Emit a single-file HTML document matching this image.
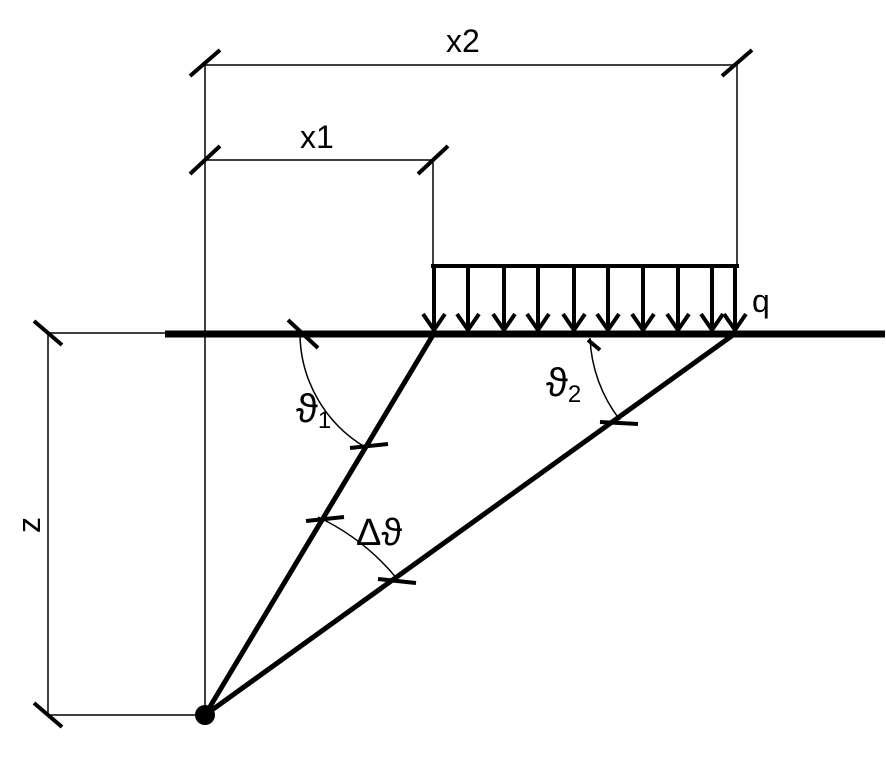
<!DOCTYPE html>
<html><head><style>body{margin:0;background:#fff}svg{display:block}</style></head><body>
<svg width="886" height="764" viewBox="0 0 886 764" xmlns="http://www.w3.org/2000/svg">
<g stroke="#000" fill="none" stroke-width="1.5">
<line x1="205" y1="65" x2="205" y2="715"/>
<line x1="205" y1="65" x2="737" y2="65"/>
<line x1="737" y1="65" x2="737" y2="265"/>
<line x1="205" y1="160" x2="433" y2="160"/>
<line x1="433" y1="160" x2="433" y2="265"/>
<line x1="48" y1="333" x2="48" y2="715"/>
<line x1="48" y1="333" x2="165" y2="333"/>
<line x1="48" y1="715" x2="205" y2="715"/>
<path d="M300 335 A133 133 0 0 0 365 447"/>
<path d="M590 338 A143 143 0 0 0 620 420"/>
<path d="M318 517 A228 228 0 0 1 398 580"/>
</g>
<g stroke="#000" stroke-width="4">
<line x1="190" y1="76" x2="220" y2="50"/>
<line x1="722" y1="76" x2="752" y2="50"/>
<line x1="190" y1="174" x2="220" y2="146"/>
<line x1="418" y1="174" x2="448" y2="146"/>
<line x1="34" y1="321" x2="62" y2="345"/>
<line x1="34" y1="703" x2="62" y2="727"/>
<line x1="288" y1="320" x2="318" y2="348"/>
<line x1="588" y1="340" x2="600" y2="350"/>
<line x1="350" y1="448" x2="388" y2="444"/>
<line x1="306" y1="521" x2="344" y2="517"/>
<line x1="378" y1="579" x2="416" y2="583"/>
<line x1="600" y1="422" x2="638" y2="424"/>
</g>
<line x1="165" y1="334" x2="885" y2="334" stroke="#000" stroke-width="7"/>
<g stroke="#000" stroke-width="5">
<line x1="433" y1="335" x2="205" y2="715"/>
<line x1="733" y1="335" x2="205" y2="715"/>
</g>
<g stroke="#000" stroke-width="4" fill="none">
<line x1="431" y1="266" x2="739" y2="266"/>
<g id="a"><line x1="434" y1="266" x2="434" y2="332"/><polyline points="423,314 434,330 445,314"/></g>
<use href="#a" x="34"/><use href="#a" x="70"/><use href="#a" x="104"/><use href="#a" x="140"/>
<use href="#a" x="174"/><use href="#a" x="209"/><use href="#a" x="244"/><use href="#a" x="278"/><use href="#a" x="301"/>
</g>
<circle cx="205" cy="715" r="10" fill="#000"/>
<g font-family="Liberation Sans, sans-serif" font-size="32" fill="#000">
<text x="446" y="52">x2</text>
<text x="300" y="148">x1</text>
<text x="752" y="312">q</text>
<text x="0" y="0" transform="translate(40,525) rotate(-90)" text-anchor="middle">z</text>
<text x="296" y="422" font-size="40">ϑ<tspan font-size="24" dy="6">1</tspan></text>
<text x="546" y="396" font-size="40">ϑ<tspan font-size="24" dy="6">2</tspan></text>
<text x="356" y="545" font-size="38">Δϑ</text>
</g>
</svg>
</body></html>
